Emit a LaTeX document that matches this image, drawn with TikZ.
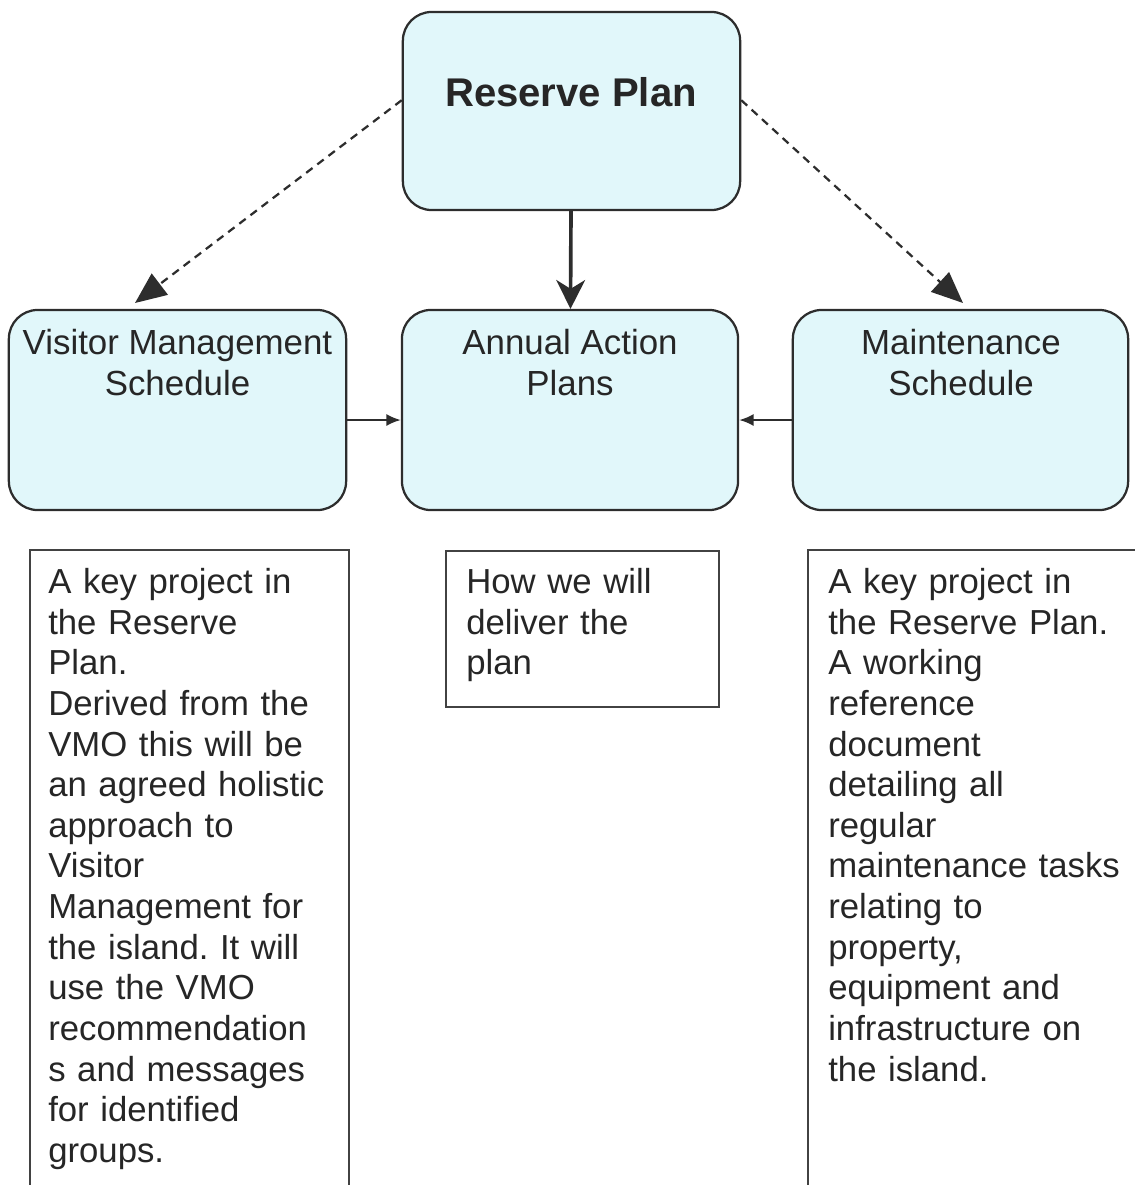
\documentclass[tikz,border=0pt]{standalone}
\usepackage{fontspec}
\setmainfont{Liberation Sans}
\usepackage{tikz}
\usetikzlibrary{arrows.meta}
\definecolor{planfill}{RGB}{225,247,250}
\definecolor{planline}{RGB}{45,45,45}
\definecolor{ink}{RGB}{38,38,38}
\frenchspacing
\tikzset{
    plan/.style={rectangle,rounded corners=0.72cm,draw=planline,line width=1.6pt,fill=planfill},
    note/.style={rectangle,draw=planline!90,line width=1.1pt},
    title/.style={inner sep=0pt,align=center,text=ink,font=\fontsize{24.8pt}{28.9pt}\selectfont},
    notetext/.style={inner sep=0pt,anchor=north west,align=left,text width=7.4cm,text=ink,
                     font=\fontsize{24.7pt}{28.9pt}\selectfont},
    link/.style={dash pattern=on 0.2cm off 0.15cm,line width=1.6pt,draw=planline,
                 -{Triangle[length=0.78cm,width=0.66cm]}},
    edge/.style={->,> = {Latex[length=0.36cm,width=0.3cm]},line width=1.5pt,draw=planline}
}

\begin{document}
\begin{tikzpicture} [x=0.025cm,y=-0.025cm]
\useasboundingbox (0,0) rectangle (1135,1185);

\node[plan,minimum width=8.43cm,minimum height=4.95cm] (1) at (571.5,111) {};
\node[plan,minimum width=8.43cm,minimum height=5cm] (2) at (177.5,410) {};
\node[plan,minimum width=8.4cm,minimum height=5cm] (3) at (570,410) {};
\node[plan,minimum width=8.38cm,minimum height=5cm] (4) at (960.5,410) {};

\node[title,font=\bfseries\fontsize{28.5pt}{32pt}\selectfont] (11) at (571,92) {Reserve Plan};
\node[title,anchor=north] (12) at (177.5,329) {Visitor Management\\Schedule};
\node[title,anchor=north] (13) at (570,329) {Annual Action\\Plans};
\node[title,anchor=north] (14) at (961,329) {Maintenance\\Schedule};

\node[note,minimum width=7.98cm,minimum height=16cm] (5) at (189.5,870) {};
\node[note,minimum width=6.83cm,minimum height=3.9cm] (6) at (582.5,629) {};
\node[note,minimum width=8.55cm,minimum height=16cm] (7) at (979,870) {};

\node[notetext] (15) at (48,568) {A key project in\\the Reserve\\Plan.\\Derived from the\\VMO this will be\\an agreed holistic\\approach to\\Visitor\\Management for\\the island. It will\\use the VMO\\recommendation\\s and messages\\for identified\\groups.};
\node[notetext,text width=6cm] (16) at (466,568) {How we will\\deliver the\\plan};
\node[notetext,text width=8cm] (17) at (828,568) {A key project in\\the Reserve Plan.\\A working\\reference\\document\\detailing all\\regular\\maintenance tasks\\relating to\\property,\\equipment and\\infrastructure on\\the island.};

\coordinate (a) at (135,303);
\coordinate (b) at (963,303);

\draw[link] ([yshift=0.27cm]1.west) -- (a);
\draw[link] ([yshift=0.27cm]1.east) -- (b);
\draw[line width=2.6pt,draw=planline,-{Stealth[length=0.72cm,width=0.72cm,inset=0.22cm]}] (1) -- (3);
\draw[edge] ([yshift=-0.25cm]2.east) -- ([yshift=-0.25cm]3.west);
\draw[edge] ([yshift=-0.25cm]4.west) -- ([yshift=-0.25cm]3.east);

\end{tikzpicture}
\end{document}
